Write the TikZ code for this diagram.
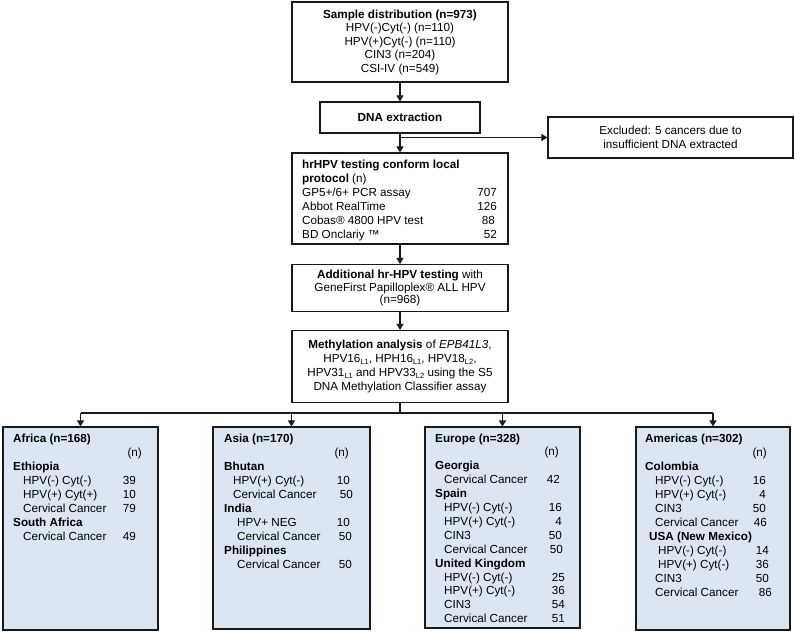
\documentclass[tikz,border=0pt]{standalone}
\usepackage{fontspec}
\setmainfont{Liberation Sans}
\usetikzlibrary{arrows.meta}
\definecolor{boxfill}{RGB}{220,230,242}
\definecolor{ink}{RGB}{25,25,25}
\newcommand{\sbL}[1]{\raisebox{-0.3ex}{\fontsize{7.5}{8}\selectfont #1}}
\begin{document}
\begin{tikzpicture}[x=1pt,y=-1pt,
  font=\fontsize{11.7}{14}\selectfont,
  box/.style={draw=ink, line width=1.1pt, rectangle, inner sep=0pt, align=center},
  rbox/.style={box, fill=boxfill},
  t/.style={inner sep=0pt, anchor=base west},
  nr/.style={inner sep=0pt, anchor=base east},
  arr/.style={draw=ink, line width=1.1pt, -{Triangle[length=6pt,width=7pt]}},
  ln/.style={draw=ink, line width=1.1pt}]
\useasboundingbox (0,0) rectangle (795,634);

% central column
\node[box, minimum width=216pt, minimum height=80pt, font=\fontsize{11.7}{13.5}\selectfont] (top) at (400,42)
  {\textbf{Sample distribution (n=973)}\\HPV(-)Cyt(-) (n=110)\\HPV(+)Cyt(-) (n=110)\\CIN3 (n=204)\\CSI-IV (n=549)};
\node[box, minimum width=160pt, minimum height=31pt] (dna) at (400,117.5) {\textbf{DNA extraction}};
\node[box, minimum width=245pt, minimum height=41pt, font=\fontsize{11.7}{14.5}\selectfont] (excl) at (670.5,137.5)
  {Excluded: 5 cancers due to\\insufficient DNA extracted};
\node[box, minimum width=216pt, minimum height=91pt] (hr) at (400,198.5) {};
\node[t] (hr1) at (302,168) {\textbf{hrHPV testing conform local}};
\node[t] (hr2) at (302,182) {\textbf{protocol} (n)};
\node[t] (hr3) at (302,196) {GP5+/6+ PCR assay};
\node[nr] (hr3n) at (497,196) {707};
\node[t] (hr4) at (302,210) {Abbot RealTime};
\node[nr] (hr4n) at (497,210) {126};
\node[t] (hr5) at (302,224) {Cobas® 4800 HPV test};
\node[nr] (hr5n) at (495,224) {88};
\node[t] (hr6) at (302,238) {BD Onclariy ™};
\node[nr] (hr6n) at (497,238) {52};
\node[box, minimum width=216pt, minimum height=47pt, font=\fontsize{11.7}{12.5}\selectfont] (add) at (400,288)
  {\textbf{Additional hr-HPV testing} with\\GeneFirst Papilloplex® ALL HPV\\(n=968)};
\node[box, minimum width=216pt, minimum height=72pt, font=\fontsize{11.7}{14.3}\selectfont] (meth) at (400,366.5)
  {\textbf{Methylation analysis} of \textit{EPB41L3},\\HPV16\sbL{L1}, HPH16\sbL{L1}, HPV18\sbL{L2},\\HPV31\sbL{L1} and HPV33\sbL{L2} using the S5\\DNA Methylation Classifier assay};

% regional boxes
\node[rbox, minimum width=155pt, minimum height=203pt] (africa) at (80.5,528.5) {};
\node[rbox, minimum width=157pt, minimum height=202pt] (asia) at (291.5,528) {};
\node[rbox, minimum width=155pt, minimum height=201pt] (europe) at (502.5,527.5) {};
\node[rbox, minimum width=154pt, minimum height=203pt] (americas) at (713,528.5) {};

% connectors
\draw[arr] (top.south) -- (dna.north);
\coordinate (br) at (dna.south |- excl.west);
\draw[ln] (dna.south) -- (br);
\draw[arr] (br) -- (hr.north);
\draw[arr] (br) -- (excl.west);
\draw[arr] (hr.south) -- (add.north);
\draw[arr] (add.south) -- (meth.north);
\coordinate (hl) at (400,413);
\draw[ln] (meth.south) -- (hl);
\draw[ln] (africa.north |- hl) -- (americas.north |- hl);
\draw[arr] (africa.north |- hl) -- (africa.north);
\draw[arr] (asia.north |- hl) -- (asia.north);
\draw[arr] (europe.north |- hl) -- (europe.north);
\draw[arr] (americas.north |- hl) -- (americas.north);

% Africa
\node[t] (af0) at (13,442) {\textbf{Africa (n=168)}};
\node[nr] (afn) at (142,456) {(n)};
\node[t] (af1) at (13,470) {\textbf{Ethiopia}};
\node[t] (af2) at (23,484) {HPV(-) Cyt(-)};
\node[nr] (af2n) at (136,484) {39};
\node[t] (af3) at (23,498) {HPV(+) Cyt(+)};
\node[nr] (af3n) at (136,498) {10};
\node[t] (af4) at (23,512) {Cervical Cancer};
\node[nr] (af4n) at (136,512) {79};
\node[t] (af5) at (13,526) {\textbf{South Africa}};
\node[t] (af6) at (23,540) {Cervical Cancer};
\node[nr] (af6n) at (136,540) {49};

% Asia
\node[t] (as0) at (224,442) {\textbf{Asia (n=170)}};
\node[nr] (asn) at (349,456) {(n)};
\node[t] (as1) at (224,470) {\textbf{Bhutan}};
\node[t] (as2) at (233,484) {HPV(+) Cyt(-)};
\node[nr] (as2n) at (350,484) {10};
\node[t] (as3) at (233,498) {Cervical Cancer};
\node[nr] (as3n) at (353,498) {50};
\node[t] (as4) at (224,512) {\textbf{India}};
\node[t] (as5) at (237,526) {HPV+ NEG};
\node[nr] (as5n) at (350,526) {10};
\node[t] (as6) at (237,540) {Cervical Cancer};
\node[nr] (as6n) at (352,540) {50};
\node[t] (as7) at (224,554) {\textbf{Philippines}};
\node[t] (as8) at (237,568) {Cervical Cancer};
\node[nr] (as8n) at (352,568) {50};

% Europe
\node[t] (eu0) at (435,442) {\textbf{Europe (n=328)}};
\node[nr] (eun) at (559,455.9) {(n)};
\node[t] (eu1) at (435,469.8) {\textbf{Georgia}};
\node[t] (eu2) at (444,483.7) {Cervical Cancer};
\node[nr] (eu2n) at (560,483.7) {42};
\node[t] (eu3) at (435,497.6) {\textbf{Spain}};
\node[t] (eu4) at (444,511.5) {HPV(-) Cyt(-)};
\node[nr] (eu4n) at (562,511.5) {16};
\node[t] (eu5) at (444,525.4) {HPV(+) Cyt(-)};
\node[nr] (eu5n) at (562,525.4) {4};
\node[t] (eu6) at (444,539.3) {CIN3};
\node[nr] (eu6n) at (562,539.3) {50};
\node[t] (eu7) at (444,553.2) {Cervical Cancer};
\node[nr] (eu7n) at (563,553.2) {50};
\node[t] (eu8) at (435,567.1) {\textbf{United Kingdom}};
\node[t] (eu9) at (444,581) {HPV(-) Cyt(-)};
\node[nr] (eu9n) at (565,581) {25};
\node[t] (eu10) at (444,594.9) {HPV(+) Cyt(-)};
\node[nr] (eu10n) at (565,594.9) {36};
\node[t] (eu11) at (444,608.8) {CIN3};
\node[nr] (eu11n) at (565,608.8) {54};
\node[t] (eu12) at (444,622.7) {Cervical Cancer};
\node[nr] (eu12n) at (565,622.7) {51};

% Americas
\node[t] (am0) at (645,442) {\textbf{Americas (n=302)}};
\node[nr] (amn) at (767,456) {(n)};
\node[t] (am1) at (645,470) {\textbf{Colombia}};
\node[t] (am2) at (655,484) {HPV(-) Cyt(-)};
\node[nr] (am2n) at (766,484) {16};
\node[t] (am3) at (655,498) {HPV(+) Cyt(-)};
\node[nr] (am3n) at (766,498) {4};
\node[t] (am4) at (655,512) {CIN3};
\node[nr] (am4n) at (766,512) {50};
\node[t] (am5) at (655,526) {Cervical Cancer};
\node[nr] (am5n) at (767,526) {46};
\node[t] (am6) at (649,540) {\textbf{USA (New Mexico)}};
\node[t] (am7) at (658,554) {HPV(-) Cyt(-)};
\node[nr] (am7n) at (769,554) {14};
\node[t] (am8) at (658,568) {HPV(+) Cyt(-)};
\node[nr] (am8n) at (769,568) {36};
\node[t] (am9) at (655,582) {CIN3};
\node[nr] (am9n) at (769,582) {50};
\node[t] (am10) at (655,596) {Cervical Cancer};
\node[nr] (am10n) at (772,596) {86};
\end{tikzpicture}
\end{document}
